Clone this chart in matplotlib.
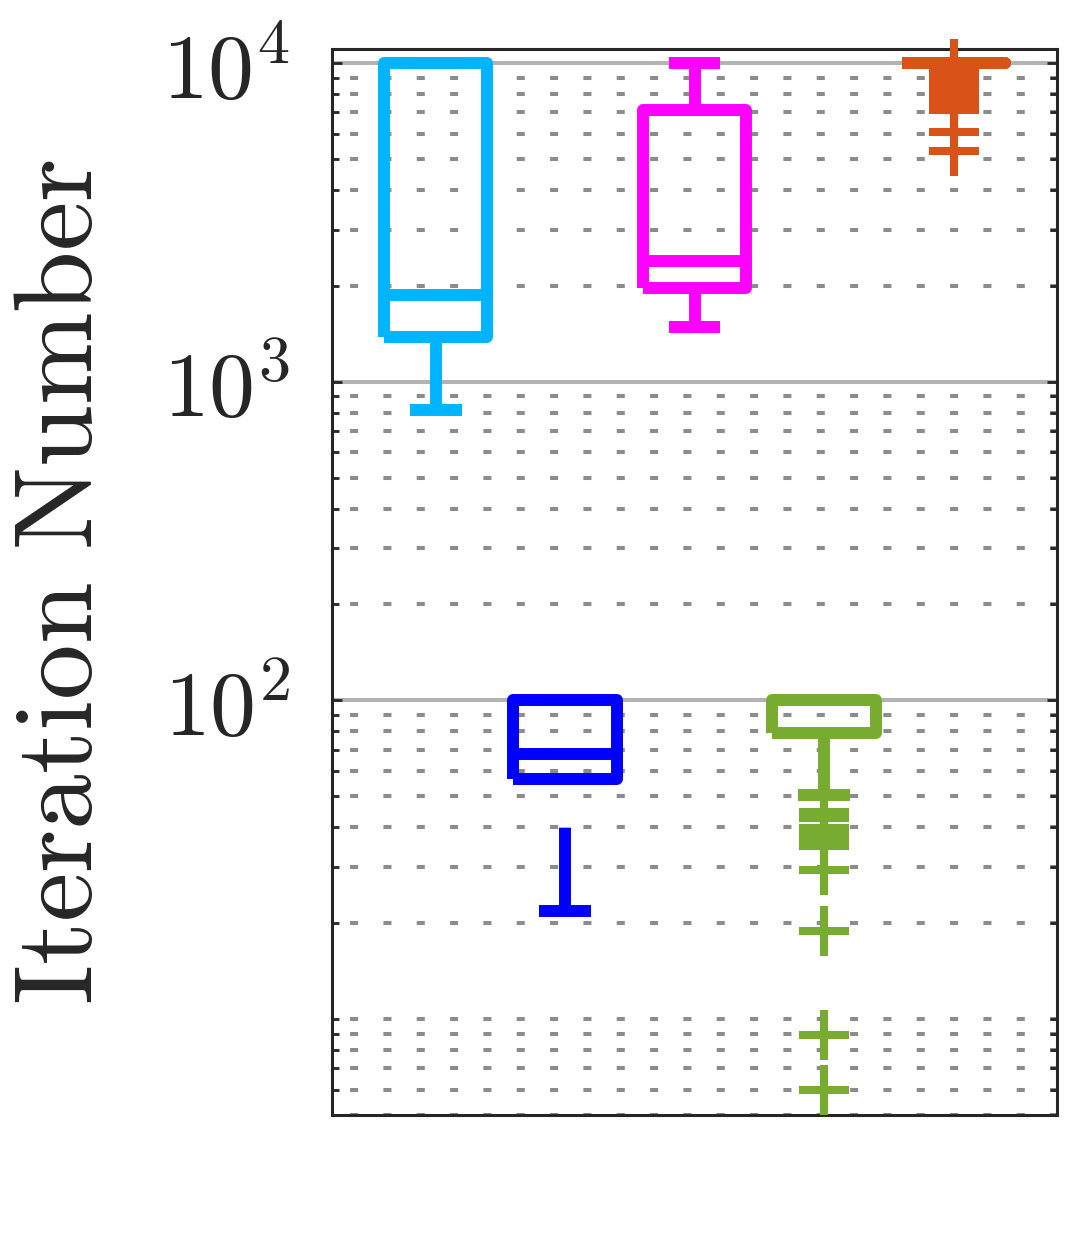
import numpy as np
import matplotlib
matplotlib.use('Agg')
import matplotlib.pyplot as plt
from matplotlib.ticker import LogLocator, NullFormatter

# one box per solver
colors = ['#00B4FF', '#0000FF', '#FF00FF', '#77AC30', '#D95319']
med = [1875, 67.7, 2397, 100, 10000]
q1 = [1383, 56.8, 1972, 78.8, 10000]
q3 = [10000, 100, 7137, 100, 10000]
whislo = [816, 21.9, 1488, 50.6, 10000]
whishi = [10000, 100, 10000, 100, 10000]
fliers = [
    [],
    [],
    [],
    [44.5, 42.8, 39.9, 38.5, 37.1, 35.8, 34.8, 29.4, 18.9, 8.93, 5.98],
    [9950, 9500, 9150, 8700, 8400, 8000, 7700, 7300, 7100, 6085, 5307],
]
ytick_vals = [1e2, 1e3, 1e4]
ytick_labels = [r'$10^{2}$', r'$10^{3}$', r'$10^{4}$']
ylabel = r'$\mathrm{Iteration\ Number}$'

plt.rcParams['mathtext.fontset'] = 'cm'
plt.rcParams['lines.scale_dashes'] = False

fig = plt.figure(figsize=(10.83, 12.5), dpi=100)
ax = fig.add_axes([0.3066, 0.108, 0.6695, 0.8528])

stats = []
for i in range(len(med)):
    stats.append(dict(med=med[i], q1=q1[i], q3=q3[i], whislo=whislo[i],
                      whishi=whishi[i], fliers=fliers[i]))

pos = np.arange(1, len(med) + 1)
lw = 8.6
bp = ax.bxp(stats, positions=pos, widths=0.8, showfliers=True,
            patch_artist=False, manage_ticks=False)
for i, c in enumerate(colors):
    bp['boxes'][i].set(color=c, linewidth=lw, solid_joinstyle='round',
                       solid_capstyle='butt', zorder=3)
    bp['medians'][i].set(color=c, linewidth=lw, solid_capstyle='butt', zorder=3)
    for w in bp['whiskers'][2 * i:2 * i + 2]:
        # matlab draws the dashed whisker starting from the far end
        w.set_data(w.get_xdata()[::-1], w.get_ydata()[::-1])
        w.set(color=c, linewidth=lw, linestyle=(0, (60, 40)),
              dash_capstyle='butt', zorder=3)
    for cp in bp['caps'][2 * i:2 * i + 2]:
        cp.set(color=c, linewidth=lw, solid_capstyle='butt', zorder=3)
    bp['fliers'][i].set(marker='+', markeredgecolor=c, markersize=36,
                        markeredgewidth=5.8, zorder=3, clip_on=False)

ax.set_yscale('log')
ax.set_ylim(5, 11070)
ax.set_xlim(0.2, 5.8)
ax.set_xticks([])
ax.set_yticks(ytick_vals, ytick_labels)
ax.yaxis.set_minor_locator(LogLocator(base=10, subs=np.arange(1, 10)))
ax.yaxis.set_minor_formatter(NullFormatter())

ax.set_axisbelow(True)
ax.grid(True, which='major', axis='y', color='#b3b3b3', linewidth=2.9,
        linestyle='-')
ax.grid(True, which='minor', axis='y', color='#8c8c8c', linewidth=2.9,
        linestyle=(11, (5.8, 18.2)))

for s in ax.spines.values():
    s.set_color('#262626')
    s.set_linewidth(2.2)
ax.tick_params(axis='y', which='both', direction='in', left=True, right=True,
               color='#262626', width=2.0, labelsize=66, pad=30,
               labelcolor='#262626')
ax.tick_params(axis='y', which='major', length=7)
ax.tick_params(axis='y', which='minor', length=5)

ax.set_ylabel(ylabel, fontsize=80, color='#262626')
ax.yaxis.set_label_coords(-0.299, 0.5)

fig.savefig('out.png', dpi=100)
